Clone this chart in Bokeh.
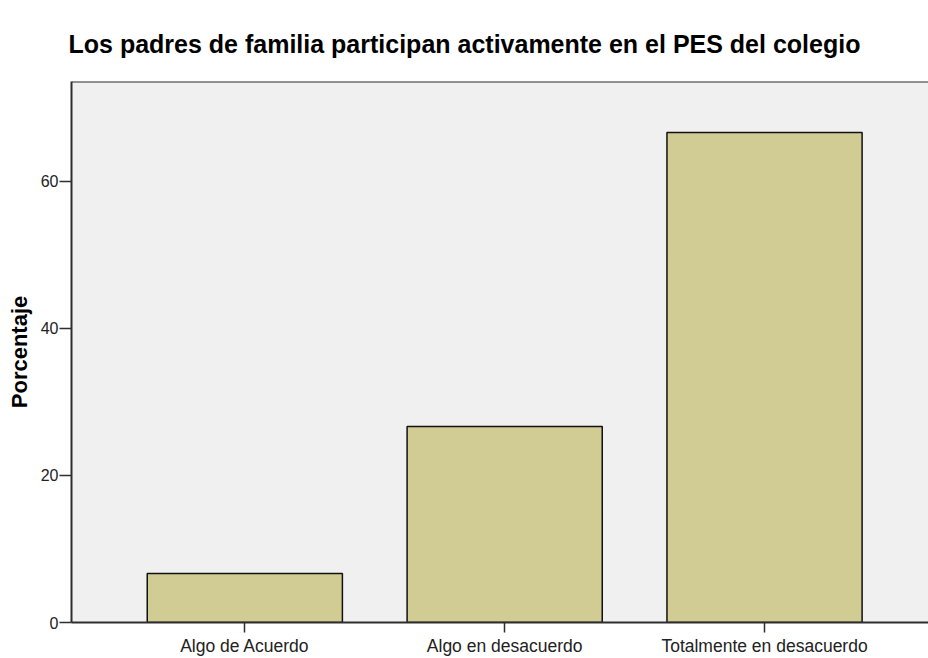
from bokeh.plotting import figure
from bokeh.models import Range1d, FixedTicker, Span, ColumnDataSource, Title
from bokeh.embed import file_html
from bokeh.resources import INLINE

categories = ["Algo de Acuerdo", "Algo en desacuerdo", "Totalmente en desacuerdo"]
percentages = [6.67, 26.67, 66.67]
y_ticks = [0, 20, 40, 60]

idx = list(range(len(categories)))
src = ColumnDataSource(dict(x=idx, top=percentages, label=categories))

Y_MAX = 73.6

p = figure(width=928, height=658, output_backend="svg", toolbar_location=None,
           x_range=Range1d(-0.667, 2.631), y_range=Range1d(0, Y_MAX),
           min_border_left=71, min_border_right=0, min_border_bottom=35, min_border_top=81)

t = Title(text="Los padres de familia participan activamente en el PES del colegio",
          text_font="Liberation Sans", text_font_size="25px", text_font_style="bold",
          text_color="#000000", align="left", offset=-3, standoff=48)
p.add_layout(t, "above")

p.background_fill_color = "#EFF0EF"
p.border_fill_color = "#FFFFFF"
p.outline_line_color = None
p.grid.visible = False

p.vbar(x="x", top="top", width=0.751, bottom=0, source=src,
       fill_color="#D1CC93", line_color="#111111", line_width=1.5)

top_line = Span(location=Y_MAX, dimension="width", line_color="#2E2E2E", line_width=2)
p.add_layout(top_line)

xa = p.xaxis[0]
xa.ticker = FixedTicker(ticks=idx)
xa.major_label_overrides = {i: c for i, c in zip(idx, categories)}
xa.minor_tick_line_color = None
xa.major_tick_in = 0
xa.major_tick_out = 10
xa.major_label_standoff = 3
xa.axis_line_color = "#2E2E2E"
xa.axis_line_width = 2
xa.major_tick_line_color = "#2E2E2E"
xa.major_tick_line_width = 1.5
xa.major_label_text_font = "Liberation Sans"
xa.major_label_text_font_size = "17.5px"
xa.major_label_text_color = "#222222"

ya = p.yaxis[0]
ya.ticker = FixedTicker(ticks=y_ticks)
ya.minor_tick_line_color = None
ya.major_tick_in = 0
ya.major_tick_out = 12
ya.major_label_standoff = 1
ya.axis_line_color = "#2E2E2E"
ya.axis_line_width = 2
ya.major_tick_line_color = "#2E2E2E"
ya.major_tick_line_width = 1.5
ya.major_label_text_font = "Liberation Sans"
ya.major_label_text_font_size = "16px"
ya.major_label_text_color = "#222222"
ya.axis_label = "Porcentaje"
ya.axis_label_text_font = "Liberation Sans"
ya.axis_label_text_font_size = "22px"
ya.axis_label_text_font_style = "bold"
ya.axis_label_text_color = "#000000"
ya.axis_label_standoff = 6

open("out.html", "w").write(file_html(p, INLINE))
